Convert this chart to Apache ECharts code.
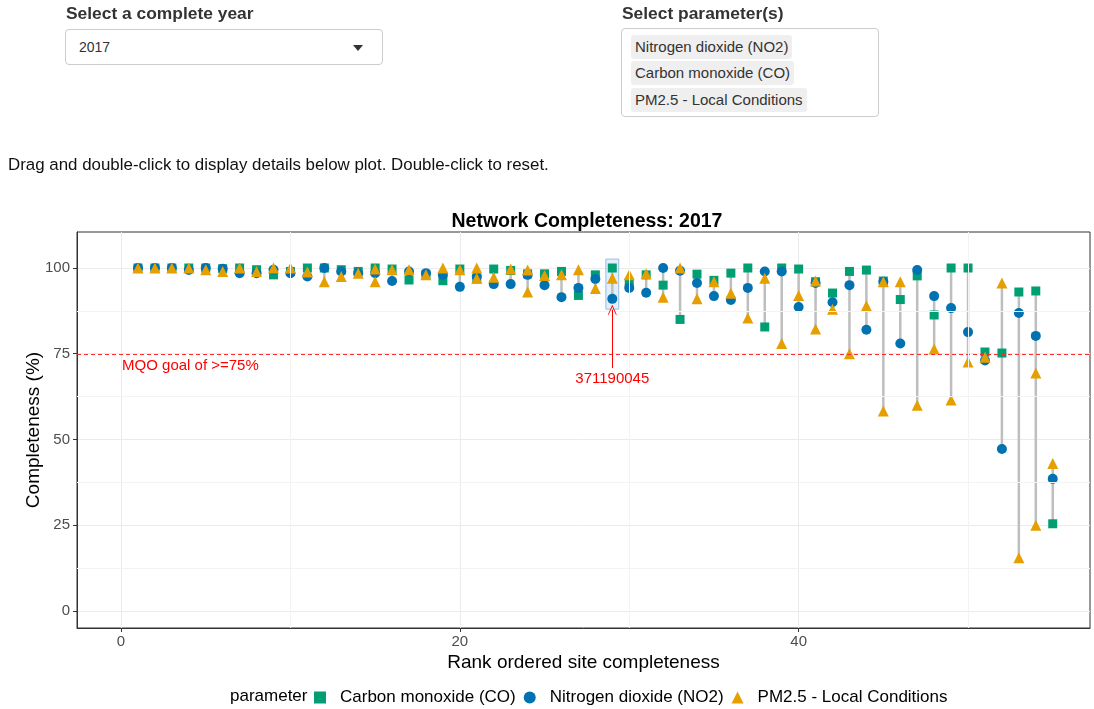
<!DOCTYPE html>
<html>
<head>
<meta charset="utf-8">
<script src="https://cdn.jsdelivr.net/npm/echarts@6/dist/echarts.min.js"></script>
<style>
  body { margin: 0; background: #fff; font-family: "Liberation Sans", Arial, Helvetica, sans-serif; color: #333; }
  #chart { position: absolute; left: 0; top: 0; width: 1094px; height: 709px; }
  .ui { position: absolute; z-index: 2; }
  .lbl { font-weight: bold; font-size: 17.4px; color: #333; }
  .sel { border: 1px solid #ccc; border-radius: 4px; box-sizing: border-box; font-size: 14px; background: #fff; }
  .tag { position: absolute; left: 9px; background: #efefef; border-radius: 3px; font-size: 15px; padding: 0 4px; height: 24px; line-height: 24px; color: #333; }
</style>
</head>
<body>
<div class="ui lbl" style="left:66px;top:3px;">Select a complete year</div>
<div class="ui sel" style="left:65px;top:29px;width:318px;height:36px;">
  <span style="position:absolute;left:13px;top:9px;">2017</span>
  <span style="position:absolute;left:287px;top:15px;width:0;height:0;border-left:5px solid transparent;border-right:5px solid transparent;border-top:6px solid #333;"></span>
</div>
<div class="ui lbl" style="left:622px;top:3px;">Select parameter(s)</div>
<div class="ui sel" style="left:621px;top:28px;width:258px;height:89px;">
  <span class="tag" style="top:6px;">Nitrogen dioxide (NO2)</span>
  <span class="tag" style="top:32px;">Carbon monoxide (CO)</span>
  <span class="tag" style="top:59px;">PM2.5 - Local Conditions</span>
</div>
<div class="ui" style="left:8px;top:155px;font-size:16.9px;color:#111;">Drag and double-click to display details below plot. Double-click to reset.</div>
<div id="chart"></div>
<script>
// completeness (%) per site, rank ordered 1..55
const co = [100, 100, 100, 100, 100, 99.8, 100, 99.5, 98, 99,
  100, 100, 99.5, 99, 100, 99.7, 96.5, 98, 96.3, 99.7,
  96.8, 99.7, 99.3, 98.3, 98.3, 99, 92, 98, 100, 95.8,
  98, 95, 85, 98.2, 96.4, 98.5, 100, 82.8, 100, 99.7,
  96, 92.7, 99, 99.4, 96.2, 90.8, 97.7, 86.3, 100, 100,
  75.5, 75.2, 93, 93.3, 25.4];
const no2 = [100, 100, 100, 99.4, 100, 99.8, 98.5, 98.5, 99.5, 98.5,
  97.5, 100, 99, 98.5, 98.5, 96.2, 99, 98.5, 98, 94.5,
  97.5, 95.3, 95.3, 98, 95, 91.5, 94.2, 96.8, 91, 94.2,
  92.8, 100, 99.2, 95.6, 91.8, 90.7, 94.2, 99, 99, 88.6,
  95.6, 90, 95, 82, 96, 78, 99.4, 91.8, 88.3, 81.3,
  73, 47.2, 86.9, 80.2, 38.5];
const pm25 = [100, 100, 100, 100, 99.5, 99, 100, 99, 100, 100,
  98.8, 96, 97.5, 98.5, 99.7, 99.5, 99.5, 98, 100, 99.5,
  100, 97.3, 99.7, 99.4, 97.8, 98, 99.5, 94, 97, 98,
  98.3, 91.5, 100, 91, 96, 92.6, 85.4, 97, 78, 92,
  96.2, 88, 75, 89, 96, 96, 60, 76.4, 61.5, 72.6,
  74, 95.6, 15.5, 69.4, 43];
// second PM2.5 monitor at some sites
const pm25b = [null, null, null, null, null, null, null, null, null, null,
  null, null, null, null, 96, null, null, null, null, null,
  97, null, null, 93, null, null, null, null, null, null,
  null, null, null, null, null, null, null, null, null, null,
  82.2, null, null, null, 58.3, null, null, null, null, null,
  null, null, null, 25, null];
const ranks = co.map((v, i) => i + 1);
const yTicks = [0, 25, 50, 75, 100];
const yMinor = [12.5, 37.5, 62.5, 87.5];
const xTicks = [0, 20, 40];
const xMinor = [10, 30, 50];
const highlightSite = 29;
const highlightLabel = '371190045';
const mqoGoal = 75;

const COL_CO = '#009E73', COL_NO2 = '#0072B2', COL_PM = '#E69F00';
const FONT = '"Liberation Sans", Arial, sans-serif';
const X_MIN = -2.6, X_MAX = 57.2;

const pairs = arr => ranks.map((r, i) => [r, arr[i]]).filter(d => d[1] != null);
const segs = ranks.map((r, i) => {
  const vals = [co[i], no2[i], pm25[i], pm25b[i]].filter(v => v != null);
  return [r, Math.min(...vals), Math.max(...vals)];
});

const chart = echarts.init(document.getElementById('chart'));

const option = {
  animation: false,
  textStyle: { fontFamily: FONT },
  title: {
    text: 'Network Completeness: 2017',
    left: 582, top: 207, textAlign: 'center',
    textStyle: { fontSize: 19.5, fontWeight: 'bold', color: '#000', fontFamily: FONT }
  },
  grid: { left: 77, right: 4, top: 232, bottom: 81, show: true, borderColor: '#333', borderWidth: 1, backgroundColor: '#fff' },
  legend: {
    left: 309, top: 684,
    itemWidth: 12, itemHeight: 12, itemGap: 8,
    textStyle: { fontSize: 17, color: '#000', fontFamily: FONT, padding: [0, 0, 0, 9] },
    data: [
      { name: 'Carbon monoxide (CO)', icon: 'rect' },
      { name: 'Nitrogen dioxide (NO2)', icon: 'circle' },
      { name: 'PM2.5 - Local Conditions', icon: 'triangle' }
    ]
  },
  graphic: [{
    type: 'text', left: 230, top: 688,
    style: { text: 'parameter', fontSize: 17, fill: '#000', fontFamily: FONT }
  }],
  xAxis: {
    type: 'value', min: X_MIN, max: X_MAX,
    name: 'Rank ordered site completeness', nameLocation: 'middle', nameGap: 25, nameMoveOverlap: false,
    nameTextStyle: { fontSize: 19, color: '#000', fontFamily: FONT },
    axisLine: { show: true, onZero: false, lineStyle: { color: '#333' } },
    axisTick: { show: true, length: 4, customValues: xTicks, lineStyle: { color: '#333' } },
    axisLabel: { customValues: xTicks, margin: 6, fontSize: 15, color: '#4d4d4d' },
    splitLine: { show: true, lineStyle: { color: '#ebebeb' } }
  },
  yAxis: {
    type: 'value', min: -5, max: 110.5,
    name: 'Completeness (%)', nameLocation: 'middle', nameGap: 34, nameMoveOverlap: false,
    nameTextStyle: { fontSize: 19, color: '#000', fontFamily: FONT },
    axisLine: { show: true, onZero: false, lineStyle: { color: '#333' } },
    axisTick: { show: true, length: 4, customValues: yTicks, lineStyle: { color: '#333' } },
    axisLabel: { customValues: yTicks, margin: 7, fontSize: 15, color: '#4d4d4d' },
    splitLine: { show: true, lineStyle: { color: '#ebebeb' } }
  },
  series: [
    {
      type: 'line', data: [], silent: true, z: 1,
      markLine: {
        silent: true, symbol: 'none', animation: false,
        label: { show: false },
        lineStyle: { color: '#f3f3f3', width: 1, type: 'solid' },
        data: yMinor.map(v => ({ yAxis: v })).concat(xMinor.map(v => ({ xAxis: v })))
      }
    },
    {
      type: 'custom', silent: true, z: 2,
      data: segs,
      encode: { x: 0, y: [1, 2] },
      renderItem: (params, api) => {
        const p1 = api.coord([api.value(0), api.value(1)]);
        const p2 = api.coord([api.value(0), api.value(2)]);
        return { type: 'line', shape: { x1: p1[0], y1: p1[1], x2: p2[0], y2: p2[1] }, style: { stroke: '#bebebe', lineWidth: 2.5 } };
      }
    },
    { name: 'Carbon monoxide (CO)', type: 'scatter', z: 3, symbol: 'rect', symbolSize: 9, itemStyle: { color: COL_CO, opacity: 1 }, data: pairs(co) },
    { name: 'Nitrogen dioxide (NO2)', type: 'scatter', z: 3, symbol: 'circle', symbolSize: 10, itemStyle: { color: COL_NO2, opacity: 1 }, data: pairs(no2) },
    { name: 'PM2.5 - Local Conditions', type: 'scatter', z: 3, symbol: 'triangle', symbolSize: 11, itemStyle: { color: COL_PM, opacity: 1 }, data: pairs(pm25) },
    { name: 'PM2.5 - Local Conditions', type: 'scatter', z: 3, symbol: 'triangle', symbolSize: 11, itemStyle: { color: COL_PM, opacity: 1 }, data: pairs(pm25b) },
    {
      // MQO goal line and its note
      type: 'custom', silent: true, z: 4,
      data: [[mqoGoal]],
      encode: { y: 0 },
      renderItem: (params, api) => {
        const a = api.coord([X_MIN, api.value(0)]);
        const b = api.coord([X_MAX, api.value(0)]);
        const t = api.coord([0, api.value(0)]);
        return {
          type: 'group',
          children: [
            { type: 'line', shape: { x1: a[0], y1: Math.round(a[1]) + 0.5, x2: b[0], y2: Math.round(b[1]) + 0.5 }, style: { stroke: '#ff2a2a', lineWidth: 1, lineDash: [4, 3] } },
            { type: 'text', x: t[0] + 1, y: t[1] + 5, style: { text: 'MQO goal of >=75%', fill: '#ff0000', fontSize: 15, fontFamily: FONT, align: 'left', verticalAlign: 'top' } }
          ]
        };
      }
    },
    {
      type: 'line', data: [], silent: true, z: 5,
      markArea: {
        silent: true,
        itemStyle: { color: 'rgba(190,220,245,0.45)', borderColor: 'rgba(140,185,225,0.9)', borderWidth: 1 },
        data: [[{ coord: [highlightSite - 0.38, 102.6] }, { coord: [highlightSite + 0.38, 88] }]]
      },
      markLine: {
        silent: true, animation: false,
        symbol: ['none', 'path://M0,10 L5,0 L10,10 L9,10 L5,2 L1,10 Z'], symbolSize: [9, 10],
        lineStyle: { color: '#ff0000', width: 1, type: 'solid' },
        label: { show: true, position: 'start', formatter: highlightLabel, color: '#ff0000', fontSize: 15, distance: 3 },
        data: [[{ coord: [highlightSite, 70.8] }, { coord: [highlightSite, 87.8] }]]
      }
    }
  ]
};

chart.setOption(option);
</script>
</body>
</html>
